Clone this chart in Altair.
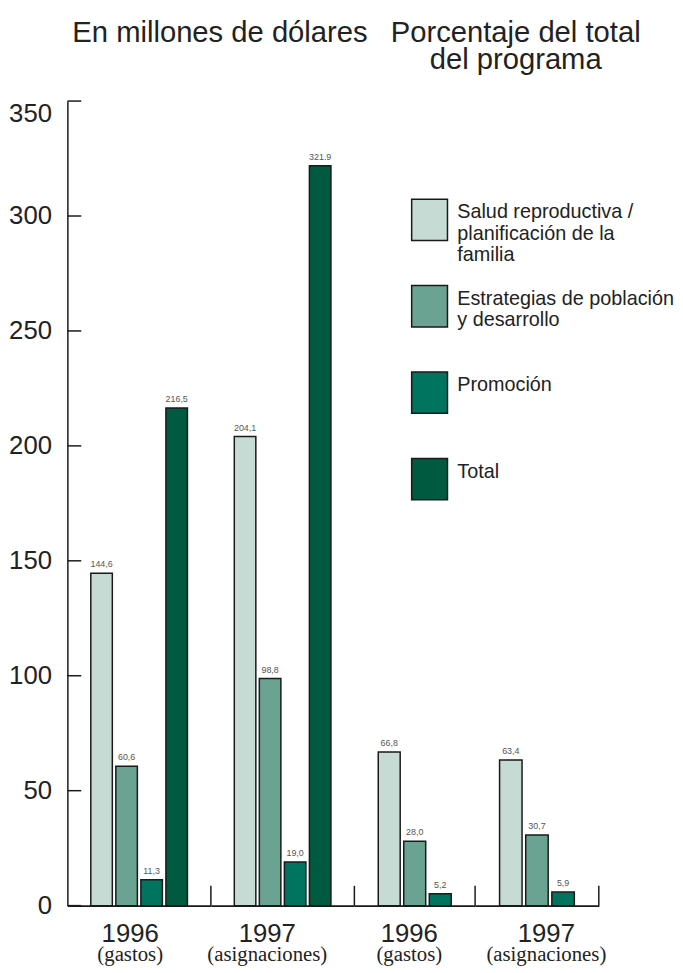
import altair as alt
import pandas as pd

# ---------------- data ----------------
series = [
    "Salud reproductiva / planificación de la familia",
    "Estrategias de población y desarrollo",
    "Promoción",
    "Total",
]
legend_text = [
    "Salud reproductiva /\nplanificación de la\nfamilia",
    "Estrategias de población\ny desarrollo",
    "Promoción",
    "Total",
]
colors = ["#c5dbd4", "#6aa392", "#00745f", "#005a3f"]

years = ["1996", "1997", "1996", "1997"]
kinds = ["(gastos)", "(asignaciones)", "(gastos)", "(asignaciones)"]

vals_1996_usd = [144.6, 60.6, 11.3, 216.5]
lbls_1996_usd = ["144,6", "60,6", "11,3", "216,5"]
vals_1997_usd = [204.1, 98.8, 19.0, 321.9]
lbls_1997_usd = ["204,1", "98,8", "19,0", "321.9"]
vals_1996_pct = [66.8, 28.0, 5.2]
lbls_1996_pct = ["66,8", "28,0", "5,2"]
vals_1997_pct = [63.4, 30.7, 5.9]
lbls_1997_pct = ["63,4", "30,7", "5,9"]

y_ticks = [0, 50, 100, 150, 200, 250, 300, 350]

title_left = "En millones de dólares"
title_right = "Porcentaje del total\ndel programa"

# ---------------- style ----------------
SANS = "Liberation Sans, Arial, Helvetica, sans-serif"
SERIF = "Liberation Serif, Times New Roman, serif"
NARROW = "Liberation Sans Narrow, Arial Narrow, Liberation Sans, sans-serif"
INK = "#222222"
EDGE = "#1a1a1a"
H = 813
widths = [145, 145, 122, 125]
label_x = [63.5, 57, 55.5, 72]

color_scale = alt.Scale(domain=series, range=colors)
y_scale = alt.Scale(domain=[0, 350], nice=False, zero=True)
RECT = "M-0.866,-1L0.866,-1L0.866,1L-0.866,1Z"


def y_axis(first):
    if not first:
        return None
    return alt.Axis(values=y_ticks, ticks=False, grid=False, title=None,
                    labelFontSize=26, labelFont=SANS, labelColor=INK,
                    labelPadding=16, domainColor=EDGE, domainWidth=1.5,
                    labelBaseline={"condition": {"test": "datum.value === 350",
                                                 "value": "top"},
                                   "value": "middle"})


def heading(text, x, align):
    return alt.Chart(pd.DataFrame({"t": [text]})).mark_text(
        font=SANS, fontSize=29.5, color=INK, align=align,
        baseline="alphabetic", lineBreak="\n", lineHeight=28).encode(
        text="t:N", x=alt.value(x), y=alt.value(-60))


def panel(i, vals, lbls, first=False, legend=False, extra=None):
    n = len(vals)
    w = widths[i]
    df = pd.DataFrame({"serie": series[:n], "valor": vals, "etiqueta": lbls})
    x = alt.X("serie:N", sort=series[:n],
              scale=alt.Scale(paddingInner=0.14, paddingOuter=0.936),
              axis=alt.Axis(labels=False, ticks=False, title=None, grid=False,
                            domainColor=EDGE, domainWidth=2))
    y = alt.Y("valor:Q", scale=y_scale, axis=y_axis(first))
    base = alt.Chart(df)
    bars = base.mark_bar(stroke=EDGE, strokeWidth=1.5).encode(
        x=x, y=y, color=alt.Color("serie:N", scale=color_scale, legend=None))
    vlabels = base.mark_text(baseline="alphabetic", dy=-6, fontSize=9,
                             font=NARROW, color="#555555").encode(
        x=x, y=y, text="etiqueta:N")
    one = alt.Chart(pd.DataFrame({"year": [years[i]], "kind": [kinds[i]]}))
    divider = one.mark_rule(color=EDGE, strokeWidth=1.5).encode(
        x=alt.value(w), y=alt.value(H - 20), y2=alt.value(H))
    year_t = one.mark_text(font=SANS, fontSize=26, color=INK, align="center",
                           baseline="alphabetic").encode(
        text="year:N", x=alt.value(label_x[i]), y=alt.value(H + 37))
    kind_t = one.mark_text(font=SERIF, fontSize=21, color=INK, align="center",
                           baseline="alphabetic").encode(
        text="kind:N", x=alt.value(label_x[i]), y=alt.value(H + 56))
    layers = [bars, vlabels, divider, year_t, kind_t]
    if first:
        tick_df = pd.DataFrame({"valor": y_ticks})
        ticks = alt.Chart(tick_df).mark_rule(color=EDGE, strokeWidth=1.5).encode(
            y=alt.Y("valor:Q", scale=y_scale, axis=y_axis(first)),
            x=alt.value(0), x2=alt.value(14))
        layers.append(ticks)
    if legend:
        leg_df = pd.DataFrame({"serie": series, "texto": legend_text})
        leg_y = alt.Y("serie:N", sort=series,
                      scale=alt.Scale(type="point", range=[120, 382], padding=0),
                      axis=None)
        sw = alt.Chart(leg_df).mark_point(shape=RECT, size=1747, filled=True,
                                          opacity=1, stroke=EDGE,
                                          strokeWidth=1.5).encode(
            x=alt.value(76), y=leg_y,
            color=alt.Color("serie:N", scale=color_scale, legend=None))
        lt = alt.Chart(leg_df).mark_text(align="left", baseline="top",
                                         lineBreak="\n", fontSize=20,
                                         lineHeight=21.5, dy=-17.5, font=SANS,
                                         color=INK).encode(
            x=alt.value(104), y=leg_y, text="texto:N")
        layers += [sw, lt]
    if extra is not None:
        layers.append(extra)
    ch = alt.layer(*layers)
    if legend:
        ch = ch.resolve_scale(y="independent")
    return ch.properties(width=w, height=H)


p1 = panel(0, vals_1996_usd, lbls_1996_usd, first=True,
           extra=heading(title_left, 5, "left"))
p2 = panel(1, vals_1997_usd, lbls_1997_usd)
p3 = panel(2, vals_1996_pct, lbls_1996_pct, legend=True)
p4 = panel(3, vals_1997_pct, lbls_1997_pct,
           extra=heading(title_right, 41, "center"))

chart = alt.hconcat(p1, p2, p3, p4, spacing=0, bounds="flush").properties(
    padding={"left": 0, "top": 5, "right": 0, "bottom": 0}
).configure(background="white").configure_view(stroke=None)

chart.save("out.html", embed_options={"renderer": "svg", "actions": False})
